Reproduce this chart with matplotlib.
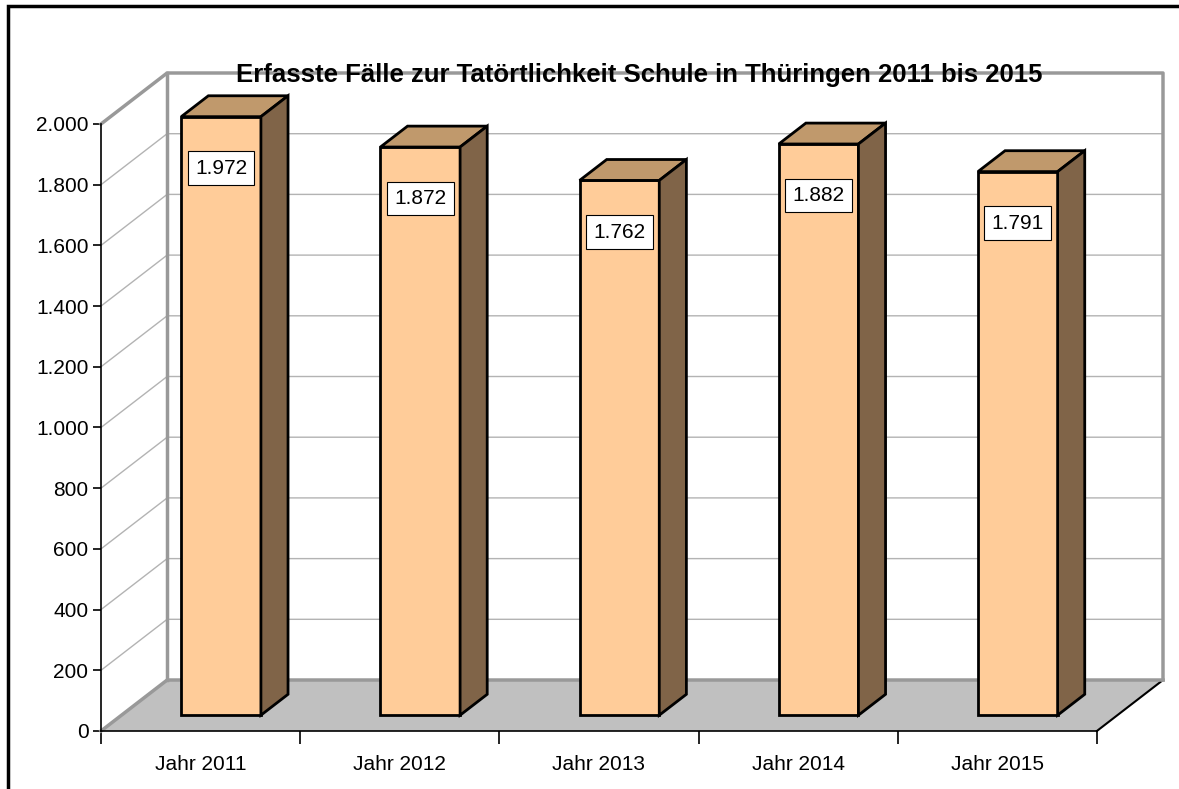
import matplotlib
matplotlib.use("Agg")
import matplotlib.pyplot as plt
from matplotlib.patches import Polygon, Rectangle
from matplotlib.ticker import FuncFormatter

plt.rcParams["font.family"] = ["Liberation Sans", "DejaVu Sans"]

# data
years = ["Jahr 2011", "Jahr 2012", "Jahr 2013", "Jahr 2014", "Jahr 2015"]
cases = [1972, 1872, 1762, 1882, 1791]
y_ticks = [0, 200, 400, 600, 800, 1000, 1200, 1400, 1600, 1800, 2000]
title = "Erfasste Fälle zur Tatörtlichkeit Schule in Thüringen 2011 bis 2015"

# pseudo-3d geometry (depth offset in data units)
DX, DY = 0.332, 168.0
YMAX = 2000
D_FRONT, D_BACK = 0.31, 0.72
HALF_W = 0.20

C_FRONT = "#FFCC99"
C_TOP = "#C0996C"
C_SIDE = "#806448"
C_WALL = "#999999"
C_GRID = "#b3b3b3"


def proj(x, y, d):
    return (x + d * DX, y + d * DY)


fig = plt.figure(figsize=(11.79, 7.89), dpi=100)
ax = fig.add_axes([101 / 1179, 58 / 789, 1062 / 1179, 658 / 789])
ax.set_xlim(0, len(years) + DX)
ax.set_ylim(0, YMAX + DY)

n = len(years)

# floor
ax.add_patch(Polygon([proj(0, 0, 0), proj(n, 0, 0), proj(n, 0, 1), proj(0, 0, 1)],
                     closed=True, facecolor="#c0c0c0", edgecolor="none", zorder=1))
ax.plot(*zip(proj(n, 0, 0), proj(n, 0, 1)), color="black", lw=1.5, zorder=2, clip_on=False)

# gridlines on side and back wall
for t in y_ticks[1:]:
    ax.plot(*zip(proj(0, t, 0), proj(0, t, 1), proj(n, t, 1)),
            color=C_GRID, lw=1, zorder=1.5, clip_on=False)

# wall edges
ax.plot(*zip(proj(0, 0, 0), proj(0, 0, 1), proj(n, 0, 1)), color=C_WALL, lw=2.5, zorder=2, clip_on=False)
ax.plot(*zip(proj(0, YMAX, 0), proj(0, YMAX, 1), proj(n, YMAX, 1), proj(n, 0, 1)),
        color=C_WALL, lw=2.5, zorder=2, clip_on=False)
ax.plot(*zip(proj(0, 0, 1), proj(0, YMAX, 1)), color=C_WALL, lw=2.5, zorder=2, clip_on=False)

# bars
for i, v in enumerate(cases):
    x0, x1 = i + 0.5 - HALF_W, i + 0.5 + HALF_W
    front = [proj(x0, 0, D_FRONT), proj(x1, 0, D_FRONT), proj(x1, v, D_FRONT), proj(x0, v, D_FRONT)]
    top = [proj(x0, v, D_FRONT), proj(x1, v, D_FRONT), proj(x1, v, D_BACK), proj(x0, v, D_BACK)]
    side = [proj(x1, 0, D_FRONT), proj(x1, 0, D_BACK), proj(x1, v, D_BACK), proj(x1, v, D_FRONT)]
    for pts, col in ((front, C_FRONT), (top, C_TOP), (side, C_SIDE)):
        ax.add_patch(Polygon(pts, closed=True, facecolor=col, edgecolor="black",
                             lw=2, joinstyle="miter", zorder=3, clip_on=False))
    lx, ly = proj(i + 0.5, v - 170, D_FRONT)
    ax.text(lx, ly, "{:,}".format(v).replace(",", "."), ha="center", va="center",
            fontsize=15, zorder=4,
            bbox=dict(boxstyle="square,pad=0.35", facecolor="white", edgecolor="black", lw=0.8))

# axes
for s in ("top", "right"):
    ax.spines[s].set_visible(False)
ax.spines["left"].set_bounds(0, YMAX)
ax.spines["bottom"].set_bounds(0, n)
ax.spines["left"].set_linewidth(1.2)
ax.spines["bottom"].set_linewidth(1.2)
ax.spines["left"].set_zorder(5)
ax.spines["bottom"].set_zorder(5)

ax.set_yticks(y_ticks)
ax.yaxis.set_major_formatter(FuncFormatter(lambda v, p: "{:,}".format(int(v)).replace(",", ".")))
ax.tick_params(axis="y", length=6, width=1.2, labelsize=15, pad=3)

ax.set_xticks(range(n + 1))
ax.set_xticklabels([])
ax.tick_params(axis="x", which="major", length=9, width=1.2)
ax.set_xticks([i + 0.5 for i in range(n)], minor=True)
ax.set_xticklabels(years, minor=True)
ax.tick_params(axis="x", which="minor", length=0, labelsize=15, pad=17)

fig.text(639 / 1179, 1 - 75 / 789, title, ha="center", va="center",
         fontsize=18.5, fontweight="bold", zorder=10)

# outer frame (cropped on right and bottom)
fig.patches.append(Rectangle((8 / 1179, -0.05), 1.1, 1 - 6 / 789 + 0.05,
                             transform=fig.transFigure, fill=False,
                             edgecolor="black", lw=2.5))

fig.savefig("out.png", dpi=100)
plt.close(fig)
